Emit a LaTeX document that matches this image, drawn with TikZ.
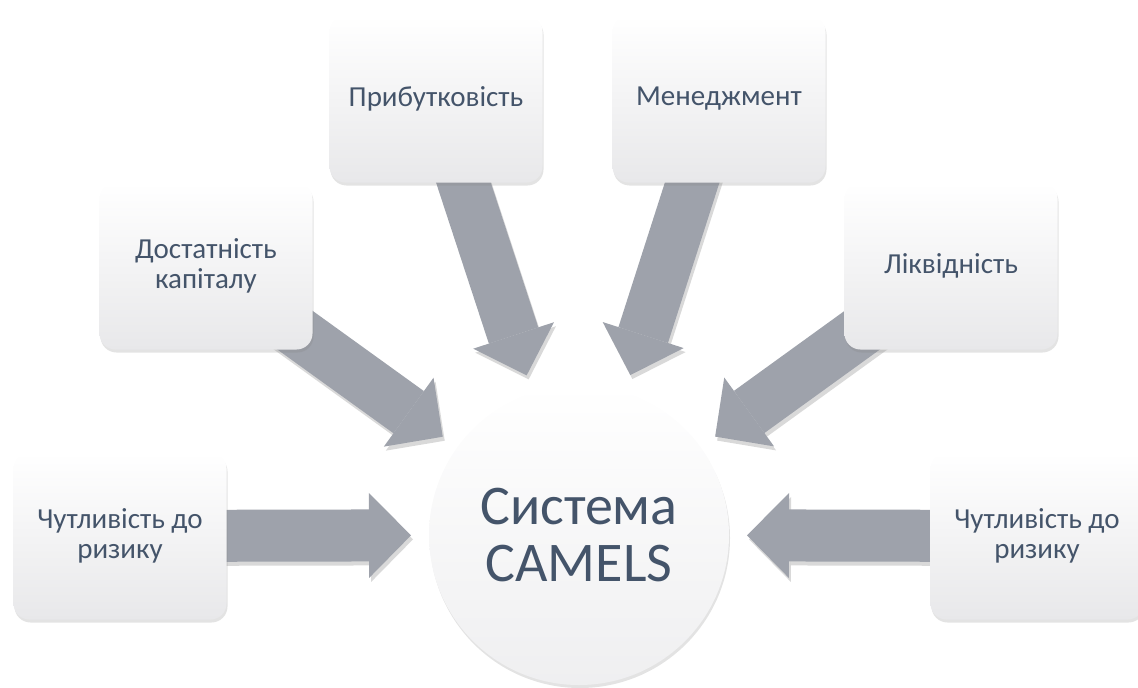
\documentclass[tikz,border=0pt]{standalone}
\usepackage{fontspec}
\setmainfont{Carlito}
\usetikzlibrary{arrows.meta,shadows,backgrounds}
\definecolor{textmain}{HTML}{44546A}
\definecolor{arrowgray}{HTML}{9EA2AB}
\definecolor{boxlow}{HTML}{E8E8EA}

\begin{document}
\begin{tikzpicture}[x=1pt,y=-1pt,
  factor/.style={rounded corners=16pt,minimum width=213pt,minimum height=167pt,
    inner sep=0pt,outer sep=0pt,align=center,text=textmain,
    font=\fontsize{29}{30}\selectfont,
    top color=white,middle color=white,bottom color=boxlow,
    drop shadow={opacity=0.22,shadow xshift=1pt,shadow yshift=-3pt}},
  hub/.style={circle,minimum size=300pt,inner sep=0pt,outer sep=0pt,
    align=center,text=textmain,font=\fontsize{56}{57}\selectfont,
    top color=white,middle color=white,bottom color=boxlow!70,
    drop shadow={opacity=0.22,shadow xshift=1pt,shadow yshift=-3pt}},
  blockarr/.style={draw=arrowgray,line width=52pt,shorten >=18pt,
    -{Triangle[length=42pt,width=85pt,line width=0pt]}},
  arrshade/.style={blockarr,draw=black,opacity=0.15,
    transform canvas={shift={(2pt,-4pt)}}}
]
  \useasboundingbox (0,0) rectangle (1138,688);

  \node[hub] (camels) at (579,535) {Система\\CAMELS};

  \node[factor] (riskl) at (120,536) {Чутливість до\\ризику};
  \node[factor] (capital) at (206,266) {Достатність\\капіталу};
  \node[factor] (profit) at (436,99) {Прибутковість};
  \node[factor] (manage) at (719,99) {Менеджмент};
  \node[factor] (liquid) at (951,266) {Ліквідність};
  \node[factor] (riskr) at (1037,536) {Чутливість до\\ризику};

  \begin{scope}[on background layer]
    \foreach \src in {riskl,capital,profit,manage,liquid,riskr}{
      \draw[arrshade] (\src.center) -- (camels);
      \draw[blockarr] (\src.center) -- (camels);
    }
  \end{scope}
\end{tikzpicture}
\end{document}
